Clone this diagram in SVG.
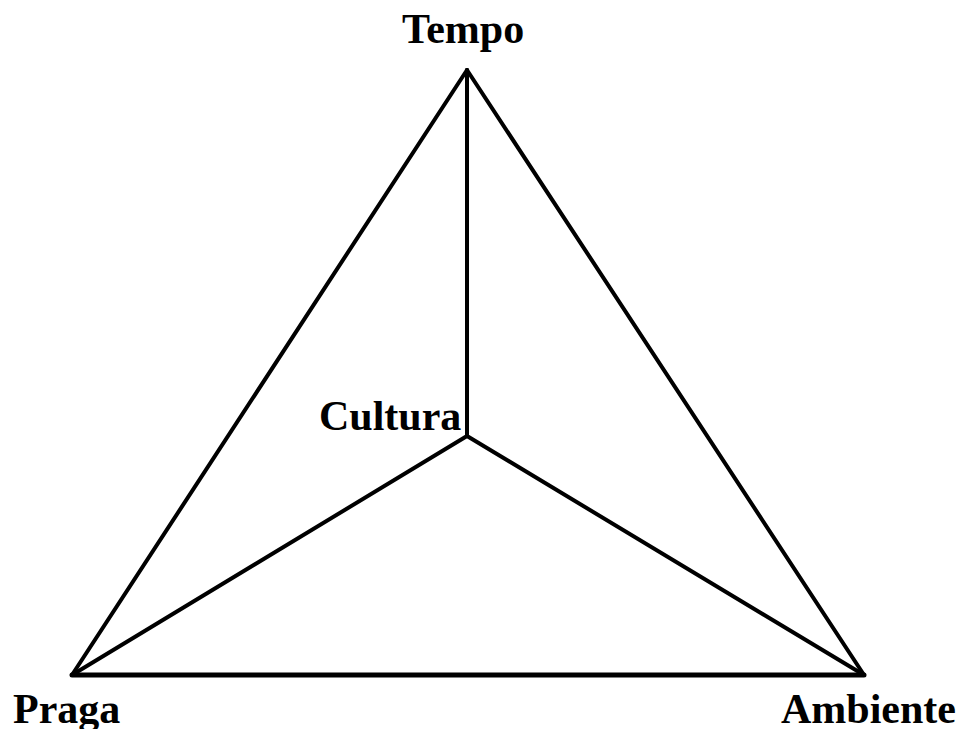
<svg xmlns="http://www.w3.org/2000/svg" width="957" height="729" viewBox="0 0 957 729">
<style>
.lbl{font-family:"Liberation Serif","Times New Roman",serif;font-weight:bold;font-size:42px;fill:#000}
.edge{stroke:#000;stroke-width:4;fill:none;stroke-linecap:round;stroke-linejoin:round}
</style>
<rect width="957" height="729" fill="#fff"/>
<g id="connectors">
<line class="edge" x1="467" y1="70" x2="72" y2="675"/>
<line class="edge" x1="467" y1="70" x2="864" y2="675"/>
<line class="edge" x1="72" y1="675" x2="864" y2="675" style="stroke-width:5"/>
<line class="edge" x1="467" y1="70" x2="467" y2="436"/>
<line class="edge" x1="467" y1="436" x2="72" y2="675"/>
<line class="edge" x1="467" y1="436" x2="864" y2="675"/>
</g>
<g id="tempo"><text class="lbl" x="402" y="43">Tempo</text></g>
<g id="cultura"><text class="lbl" x="319" y="430">Cultura</text></g>
<g id="praga"><text class="lbl" x="13" y="723">Praga</text></g>
<g id="ambiente"><text class="lbl" x="781" y="723">Ambiente</text></g>
</svg>
